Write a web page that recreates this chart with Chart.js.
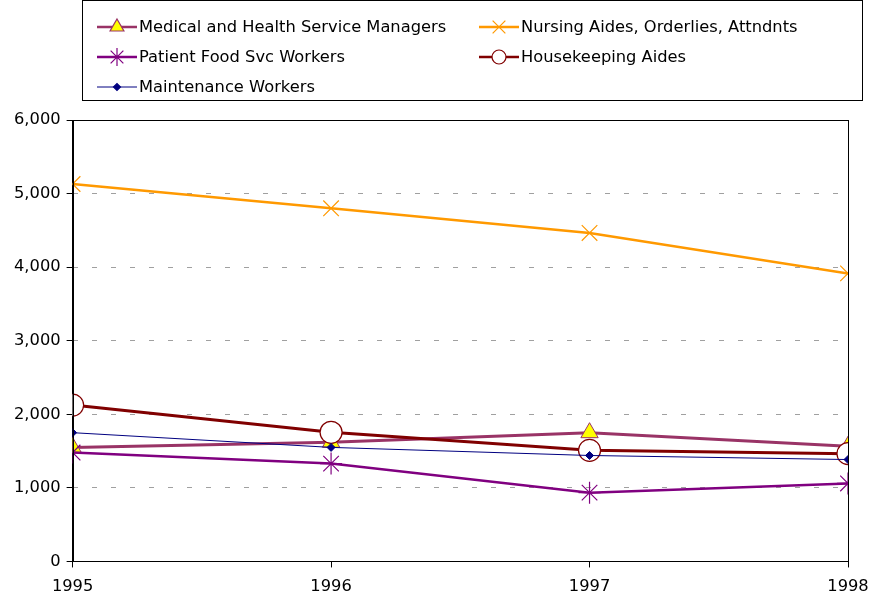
<!DOCTYPE html>
<html>
<head>
<meta charset="utf-8">
<script src="https://cdn.jsdelivr.net/npm/chart.js@4/dist/chart.umd.min.js"></script>
<style>
  html, body { margin: 0; padding: 0; background: #fff; }
  #wrap { width: 871px; height: 602px; }
</style>
</head>
<body>
<div id="wrap"><canvas id="chart" width="871" height="602"></canvas></div>
<script>
var years = [1995, 1996, 1997, 1998];
var yTicks = [0, 1000, 2000, 3000, 4000, 5000, 6000];

var medicalMgrs = [1550, 1620, 1750, 1565];
var nursingAides = [5130, 4800, 4465, 3915];
var foodWorkers = [1480, 1330, 935, 1060];
var housekeeping = [2125, 1755, 1510, 1465];
var maintenance = [1750, 1550, 1440, 1385];

var names = [
  'Medical and Health Service Managers',
  'Nursing Aides, Orderlies, Attndnts',
  'Patient Food Svc Workers',
  'Housekeeping Aides',
  'Maintenance Workers'
];

var font = '"DejaVu Sans", Tahoma, sans-serif';

function pts(vals) {
  return vals.map(function (v, i) { return { x: years[i], y: v }; });
}

// boxed legend in two columns, like the original
var boxLegend = {
  id: 'boxLegend',
  afterDraw: function (chart) {
    var ctx = chart.ctx;
    ctx.save();
    ctx.strokeStyle = '#000';
    ctx.lineWidth = 1;
    ctx.strokeRect(82.5, 0.5, 780, 100);
    var slots = [[97, 27], [479, 27], [97, 57], [479, 57], [97, 87]];
    chart.data.datasets.forEach(function (ds, i) {
      var x = slots[i][0], y = slots[i][1];
      ctx.strokeStyle = ds.borderColor;
      ctx.lineWidth = Math.min(ds.borderWidth, 2.5);
      ctx.beginPath();
      ctx.moveTo(x, y);
      ctx.lineTo(x + 40, y);
      ctx.stroke();
      ctx.save();
      ctx.fillStyle = ds.pointBackgroundColor;
      ctx.strokeStyle = ds.pointBorderColor;
      ctx.lineWidth = 1.2;
      Chart.helpers.drawPoint(ctx, {
        pointStyle: ds.pointStyle,
        radius: ds.legendRadius,
        rotation: 0,
        borderWidth: 1.2
      }, x + 20, y);
      ctx.restore();
      ctx.fillStyle = '#000';
      ctx.font = '16.3px ' + font;
      ctx.textBaseline = 'middle';
      ctx.fillText(ds.label, x + 42, y + 1);
    });
    ctx.restore();
  }
};

// black frame around the plot area
var frame = {
  id: 'frame',
  afterDatasetsDraw: function (chart) {
    var a = chart.chartArea, ctx = chart.ctx;
    ctx.save();
    ctx.strokeStyle = '#000';
    ctx.lineWidth = 1;
    ctx.strokeRect(Math.round(a.left) + 0.5, Math.round(a.top) + 0.5,
      Math.round(a.right - a.left), Math.round(a.bottom - a.top));
    ctx.restore();
  }
};

new Chart(document.getElementById('chart'), {
  type: 'line',
  data: {
    datasets: [
      { label: names[0], data: pts(medicalMgrs), borderColor: '#993366', borderWidth: 3,
        pointStyle: 'triangle', pointRadius: 10, legendRadius: 8, pointBackgroundColor: '#ffff00',
        pointBorderColor: '#993366', pointBorderWidth: 1, order: 3 },
      { label: names[1], data: pts(nursingAides), borderColor: '#ff9900', borderWidth: 2.5,
        pointStyle: 'crossRot', pointRadius: 11, legendRadius: 9, pointBackgroundColor: '#ff9900',
        pointBorderColor: '#ff9900', pointBorderWidth: 1.2, order: 4 },
      { label: names[2], data: pts(foodWorkers), borderColor: '#800080', borderWidth: 2.5,
        pointStyle: 'star', pointRadius: 11, legendRadius: 9, pointBackgroundColor: '#800080',
        pointBorderColor: '#800080', pointBorderWidth: 1.2, order: 2 },
      { label: names[3], data: pts(housekeeping), borderColor: '#800000', borderWidth: 3,
        pointStyle: 'circle', pointRadius: 11, legendRadius: 7, pointBackgroundColor: '#ffffff',
        pointBorderColor: '#800000', pointBorderWidth: 1.2, order: 1 },
      { label: names[4], data: pts(maintenance), borderColor: '#000080', borderWidth: 1,
        pointStyle: 'rectRot', pointRadius: 4, legendRadius: 3.5, pointBackgroundColor: '#000080',
        pointBorderColor: '#000080', pointBorderWidth: 1, order: 0 }
    ]
  },
  options: {
    responsive: false,
    animation: false,
    layout: { padding: { top: 120, right: 23, left: 8, bottom: -5 } },
    plugins: {
      legend: { display: false },
      tooltip: { enabled: false }
    },
    scales: {
      x: {
        type: 'linear',
        min: 1995,
        max: 1998,
        afterBuildTicks: function (axis) {
          axis.ticks = years.map(function (v) { return { value: v }; });
        },
        afterFit: function (axis) {
          // let the last year label run into the margin, as in the original
          axis.paddingRight = 0;
        },
        grid: { display: true, drawOnChartArea: false, color: '#000', tickLength: 6 },
        border: { color: '#000' },
        ticks: { color: '#000', font: { family: font, size: 16.3 }, padding: 10,
          callback: function (v) { return String(v); } }
      },
      y: {
        min: 0,
        max: 6000,
        afterBuildTicks: function (axis) {
          axis.ticks = yTicks.map(function (v) { return { value: v }; });
        },
        grid: { color: '#a0a0a0', tickLength: 6, tickColor: '#000', tickBorderDash: [] },
        border: { color: '#000', dash: [5, 14] },
        ticks: { color: '#000', font: { family: font, size: 16.3 }, padding: 6,
          callback: function (v) { return v.toLocaleString('en-US'); } }
      }
    }
  },
  plugins: [frame, boxLegend]
});
</script>
</body>
</html>
